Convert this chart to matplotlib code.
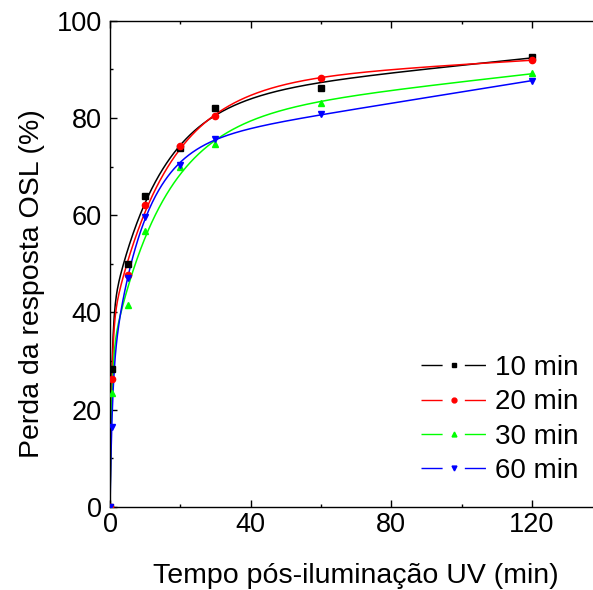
import numpy as np
import matplotlib
matplotlib.use("Agg")
import matplotlib.pyplot as plt
from matplotlib.ticker import MultipleLocator

plt.rcParams['font.family'] = ['Liberation Sans', 'DejaVu Sans']
plt.rcParams['lines.scale_dashes'] = False

# tempo pos-iluminacao (min)
tempo = [0, 0.5, 5, 10, 20, 30, 60, 120]

# perda da resposta OSL (%) para cada tempo de iluminacao
perda_10 = [0, 28.3, 50.0, 64.0, 73.8, 82.0, 86.2, 92.6]
perda_20 = [0, 26.4, 47.8, 62.1, 74.2, 80.3, 88.2, 91.9]
perda_30 = [0, 23.4, 41.5, 56.8, 69.9, 74.6, 83.1, 89.2]
perda_60 = [0, 16.5, 47.0, 59.6, 70.3, 75.7, 80.8, 87.6]

labels = ["10 min", "20 min", "30 min", "60 min"]
cores = ["#000000", "#ff0000", "#00ff00", "#0000ff"]
marcadores = ["s", "o", "^", "v"]


def ajuste(x, y):
    # bi-exponencial + termo linear; tempos por busca em grade, amplitudes por minimos quadrados
    x = np.asarray(x, float)
    y = np.asarray(y, float)
    melhor = None
    for t1 in np.geomspace(0.5, 15, 50):
        for t2 in np.geomspace(3, 60, 50):
            if t2 <= t1 * 1.5:
                continue
            A = np.column_stack([1 - np.exp(-x / t1), 1 - np.exp(-x / t2), x])
            coef, *_ = np.linalg.lstsq(A, y, rcond=None)
            if np.any(coef < 0):
                continue
            r = np.sum((A @ coef - y) ** 2)
            if melhor is None or r < melhor[0]:
                melhor = (r, t1, t2, coef)
    _, t1, t2, coef = melhor
    return lambda xx: (coef[0] * (1 - np.exp(-xx / t1)) + coef[1] * (1 - np.exp(-xx / t2))
                       + coef[2] * xx)


fig = plt.figure(figsize=(5.93, 5.90), dpi=100)
ax = fig.add_axes([0.1855, 0.1407, 0.83, 0.8243])

xx = np.linspace(0, 120, 800)
for y, lab, c, m in zip([perda_10, perda_20, perda_30, perda_60], labels, cores, marcadores):
    f = ajuste(tempo, y)
    ax.plot(xx, f(xx), color=c, lw=1.1, zorder=2)
    ax.plot(tempo, y, ls="none", marker=m, color=c, ms=4.5, zorder=3)
    ax.plot([], [], color=c, lw=1.0, ls=(0, (15.2, 16, 15.2, 200)),
            marker=m, ms=3.5, label=lab)

ax.set_xlim(0, 140)
ax.set_ylim(0, 100)
ax.xaxis.set_major_locator(MultipleLocator(40))
ax.xaxis.set_minor_locator(MultipleLocator(20))
ax.yaxis.set_major_locator(MultipleLocator(20))
ax.yaxis.set_minor_locator(MultipleLocator(10))
ax.tick_params(which="both", direction="in", top=True, right=True, labelsize=19.5, width=1)
ax.tick_params(axis="y", pad=6)
ax.tick_params(which="major", length=5)
ax.tick_params(which="minor", length=2.5)
for s in ax.spines.values():
    s.set_linewidth(1.0)

ax.set_xlabel("Tempo pós-iluminação UV (min)", fontsize=20.5, labelpad=18)
ax.set_ylabel("Perda da resposta OSL (%)", fontsize=20.5, labelpad=8, y=0.4586)

leg = ax.legend(loc="lower right", bbox_to_anchor=(0.0, -0.004, 1.002, 1), frameon=False,
                fontsize=20, handlelength=2.35, handletextpad=0.3, labelspacing=0.3,
                numpoints=1)

fig.savefig("out.png", dpi=100)
